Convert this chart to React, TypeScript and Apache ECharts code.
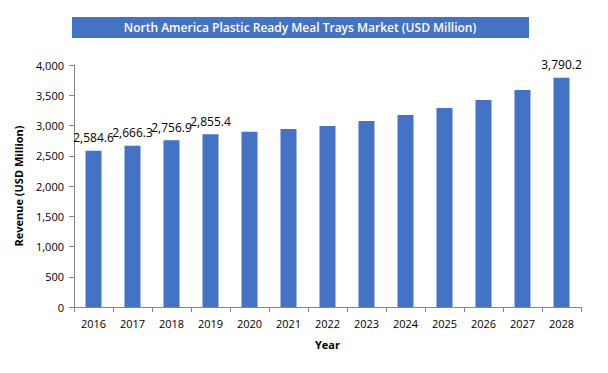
import React, { useEffect, useRef } from "react";
import * as echarts from "echarts";

const years = ["2016","2017","2018","2019","2020","2021","2022","2023","2024","2025","2026","2027","2028"];
const revenue = [2584.6, 2666.3, 2756.9, 2855.4, 2898, 2942, 2992, 3074, 3174, 3289, 3421, 3587, 3790.2];
const labelled = [true, true, true, true, false, false, false, false, false, false, false, false, true];
const yTicks = [0, 500, 1000, 1500, 2000, 2500, 3000, 3500, 4000];

const FONT = "'Open Sans', 'Noto Sans', sans-serif";

export default function App() {
  const ref = useRef<HTMLDivElement>(null);
  useEffect(() => {
    document.body.style.margin = "0";
    if (!ref.current) return;
    const chart = echarts.init(ref.current, undefined, { renderer: "svg" });
    chart.setOption({
      animation: false,
      backgroundColor: "#ffffff",
      graphic: [
        {
          type: "rect",
          shape: { x: 72, y: 17, width: 457, height: 21 },
          style: { fill: "#4472c4" },
        },
        {
          type: "text",
          x: 300,
          y: 27.5,
          style: {
            text: "North America Plastic Ready Meal Trays Market (USD Million)",
            fill: "#ffffff",
            font: `600 12px ${FONT}`,
            textAlign: "center",
            textVerticalAlign: "middle",
          },
        },
      ],
      grid: { left: 74, right: 27, top: 65, bottom: 66, containLabel: false },
      xAxis: {
        type: "category",
        data: years,
        name: "Year",
        nameLocation: "middle",
        nameGap: 32,
        nameTextStyle: { fontFamily: FONT, fontWeight: "bold", fontSize: 11, color: "#000" },
        axisLine: { lineStyle: { color: "#868686", width: 1 } },
        axisTick: { show: true, alignWithLabel: false, length: 5, lineStyle: { color: "#868686" } },
        axisLabel: { fontFamily: FONT, fontSize: 11, color: "#000", margin: 11 },
      },
      yAxis: {
        type: "value",
        min: 0,
        max: yTicks[yTicks.length - 1],
        interval: 500,
        name: "Revenue (USD Million)",
        nameLocation: "middle",
        nameGap: 50,
        nameTextStyle: { fontFamily: FONT, fontWeight: "bold", fontSize: 11, color: "#000" },
        axisLine: { show: true, lineStyle: { color: "#868686", width: 1 } },
        axisTick: { show: true, length: 5, lineStyle: { color: "#868686" } },
        splitLine: { show: false },
        axisLabel: {
          fontFamily: FONT,
          fontSize: 11,
          color: "#000",
          margin: 10,
          formatter: (v: number) => v.toLocaleString("en-US"),
        },
      },
      series: [
        {
          type: "bar",
          data: revenue.map((v, i) => ({
            value: v,
            label: {
              show: labelled[i],
              position: "top",
              distance: 7,
              formatter: (p: any) =>
                Number(p.value).toLocaleString("en-US", { minimumFractionDigits: 1, maximumFractionDigits: 1 }),
              fontFamily: FONT,
              fontSize: 12,
              color: "#000",
            },
          })),
          barWidth: 16,
          itemStyle: { color: "#4472c4" },
        },
      ],
    });
    return () => chart.dispose();
  }, []);
  return <div ref={ref} style={{ width: 608, height: 373 }} />;
}
